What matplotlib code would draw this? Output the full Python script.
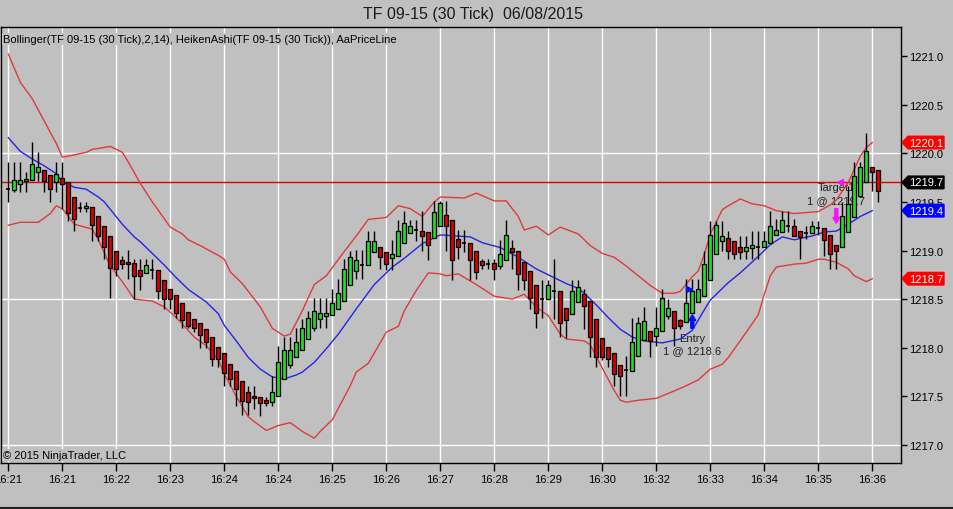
import matplotlib
matplotlib.use("Agg")
import matplotlib.pyplot as plt
import matplotlib.transforms as mtrans
from matplotlib.patches import Polygon, FancyArrow

plt.rcParams['font.family'] = ['Liberation Sans', 'DejaVu Sans']

# ---------------- data ----------------
title = "TF 09-15 (30 Tick)  06/08/2015"
indicator_label = "Bollinger(TF 09-15 (30 Tick),2,14), HeikenAshi(TF 09-15 (30 Tick)), AaPriceLine"
copyright_label = "\u00a9 2015 NinjaTrader, LLC"

ha_open = [1219.63, 1219.62, 1219.68, 1219.71, 1219.72, 1219.81, 1219.83, 1219.78, 1219.70, 1219.75,
           1219.70, 1219.55, 1219.44, 1219.44, 1219.45, 1219.35, 1219.25, 1219.15, 1218.99, 1218.90,
           1218.88, 1218.87, 1218.80, 1218.77, 1218.80, 1218.80, 1218.70, 1218.60, 1218.54, 1218.46,
           1218.37, 1218.30, 1218.25, 1218.19, 1218.11, 1218.01, 1217.95, 1217.83, 1217.76, 1217.66,
           1217.54, 1217.50, 1217.49, 1217.46, 1217.44, 1217.50, 1217.68, 1217.82, 1217.90, 1217.98,
           1218.09, 1218.20, 1218.30, 1218.33, 1218.34, 1218.40, 1218.48, 1218.65, 1218.79, 1218.85,
           1218.85, 1218.98, 1219.04, 1218.98, 1218.92, 1218.94, 1219.08, 1219.18, 1219.21, 1219.20,
           1219.19, 1219.13, 1219.25, 1219.37, 1219.31, 1219.12, 1219.08, 1219.08, 1218.99, 1218.89,
           1218.86, 1218.87, 1218.84, 1218.90, 1219.03, 1218.99, 1218.88, 1218.79, 1218.65, 1218.50,
           1218.50, 1218.58, 1218.58, 1218.41, 1218.35, 1218.47, 1218.55, 1218.48, 1218.30, 1218.10,
           1218.01, 1217.95, 1217.82, 1217.77, 1217.76, 1217.92, 1218.08, 1218.17, 1218.12, 1218.17,
           1218.33, 1218.38, 1218.29, 1218.26, 1218.36, 1218.47, 1218.53, 1218.70, 1218.96, 1219.10,
           1219.13, 1219.10, 1219.04, 1219.00, 1219.03, 1219.04, 1219.04, 1219.08, 1219.16, 1219.19,
           1219.25, 1219.25, 1219.20, 1219.18, 1219.18, 1219.23, 1219.23, 1219.16, 1219.06, 1219.04,
           1219.19, 1219.34, 1219.56, 1219.70, 1219.86, 1219.83]
ha_close = [1219.63, 1219.72, 1219.72, 1219.74, 1219.89, 1219.86, 1219.71, 1219.63, 1219.79, 1219.68,
            1219.39, 1219.32, 1219.44, 1219.46, 1219.26, 1219.15, 1219.04, 1218.82, 1218.81, 1218.86,
            1218.86, 1218.74, 1218.74, 1218.85, 1218.80, 1218.58, 1218.50, 1218.50, 1218.36, 1218.29,
            1218.22, 1218.20, 1218.13, 1218.06, 1217.88, 1217.88, 1217.74, 1217.68, 1217.58, 1217.45,
            1217.44, 1217.48, 1217.43, 1217.43, 1217.54, 1217.85, 1217.98, 1217.98, 1218.06, 1218.20,
            1218.31, 1218.38, 1218.36, 1218.36, 1218.46, 1218.56, 1218.81, 1218.93, 1218.90, 1218.85,
            1219.10, 1219.10, 1218.93, 1218.86, 1218.96, 1219.20, 1219.28, 1219.25, 1219.21, 1219.15,
            1219.06, 1219.40, 1219.49, 1219.25, 1218.90, 1219.04, 1219.08, 1218.90, 1218.78, 1218.85,
            1218.86, 1218.81, 1218.96, 1219.16, 1218.98, 1218.76, 1218.70, 1218.51, 1218.36, 1218.50,
            1218.65, 1218.58, 1218.25, 1218.29, 1218.58, 1218.62, 1218.43, 1218.11, 1217.90, 1217.90,
            1217.88, 1217.73, 1217.71, 1217.77, 1218.06, 1218.25, 1218.28, 1218.07, 1218.20, 1218.51,
            1218.41, 1218.20, 1218.22, 1218.46, 1218.58, 1218.60, 1218.86, 1219.16, 1219.26, 1219.15,
            1218.99, 1218.96, 1218.98, 1219.04, 1219.06, 1219.04, 1219.10, 1219.25, 1219.21, 1219.31,
            1219.25, 1219.15, 1219.14, 1219.18, 1219.25, 1219.23, 1219.11, 1218.96, 1218.99, 1219.35,
            1219.48, 1219.77, 1219.86, 1220.02, 1219.81, 1219.61]
ha_high = [1219.91, 1219.91, 1219.91, 1219.81, 1220.12, 1220.01, 1219.83, 1219.78, 1219.91, 1219.91,
           1219.70, 1219.55, 1219.50, 1219.50, 1219.45, 1219.35, 1219.25, 1219.15, 1218.99, 1218.94,
           1219.01, 1218.91, 1218.91, 1218.91, 1218.91, 1218.80, 1218.70, 1218.60, 1218.54, 1218.46,
           1218.37, 1218.30, 1218.25, 1218.19, 1218.11, 1218.01, 1217.95, 1217.83, 1217.76, 1217.66,
           1217.61, 1217.61, 1217.49, 1217.49, 1217.71, 1218.02, 1218.11, 1218.11, 1218.20, 1218.30,
           1218.38, 1218.51, 1218.51, 1218.51, 1218.60, 1218.71, 1218.91, 1218.99, 1219.01, 1219.01,
           1219.20, 1219.20, 1219.04, 1218.98, 1219.11, 1219.31, 1219.41, 1219.31, 1219.31, 1219.41,
           1219.19, 1219.51, 1219.51, 1219.51, 1219.31, 1219.21, 1219.21, 1219.08, 1218.99, 1218.91,
           1218.91, 1218.91, 1219.11, 1219.31, 1219.11, 1218.99, 1218.88, 1218.79, 1218.65, 1218.70,
           1218.70, 1218.91, 1218.58, 1218.41, 1218.70, 1218.70, 1218.60, 1218.48, 1218.30, 1218.10,
           1218.01, 1217.95, 1217.82, 1217.92, 1218.31, 1218.32, 1218.42, 1218.17, 1218.42, 1218.60,
           1218.50, 1218.38, 1218.30, 1218.71, 1218.71, 1218.71, 1218.99, 1219.30, 1219.30, 1219.30,
           1219.20, 1219.10, 1219.15, 1219.15, 1219.20, 1219.20, 1219.20, 1219.41, 1219.32, 1219.41,
           1219.41, 1219.32, 1219.20, 1219.25, 1219.30, 1219.30, 1219.23, 1219.16, 1219.06, 1219.50,
           1219.66, 1219.91, 1219.91, 1220.21, 1219.86, 1219.83]
ha_low = [1219.50, 1219.60, 1219.60, 1219.60, 1219.72, 1219.71, 1219.60, 1219.50, 1219.60, 1219.43,
          1219.30, 1219.20, 1219.40, 1219.40, 1219.10, 1219.10, 1218.91, 1218.51, 1218.74, 1218.81,
          1218.71, 1218.50, 1218.59, 1218.77, 1218.71, 1218.50, 1218.40, 1218.40, 1218.31, 1218.20,
          1218.20, 1218.16, 1218.00, 1218.00, 1217.81, 1217.80, 1217.61, 1217.61, 1217.40, 1217.31,
          1217.31, 1217.37, 1217.30, 1217.40, 1217.40, 1217.50, 1217.68, 1217.79, 1217.90, 1217.98,
          1218.09, 1218.17, 1218.20, 1218.20, 1218.34, 1218.40, 1218.48, 1218.65, 1218.71, 1218.71,
          1218.85, 1218.98, 1218.81, 1218.80, 1218.80, 1218.94, 1219.08, 1219.18, 1219.10, 1218.99,
          1218.90, 1219.13, 1219.25, 1218.99, 1218.70, 1218.91, 1218.98, 1218.70, 1218.71, 1218.81,
          1218.81, 1218.70, 1218.81, 1218.90, 1218.81, 1218.59, 1218.59, 1218.40, 1218.20, 1218.31,
          1218.50, 1218.30, 1218.11, 1218.10, 1218.35, 1218.47, 1218.19, 1217.90, 1217.80, 1217.87,
          1217.80, 1217.61, 1217.50, 1217.50, 1217.76, 1217.92, 1218.08, 1217.90, 1218.02, 1218.17,
          1218.30, 1218.02, 1218.19, 1218.26, 1218.36, 1218.47, 1218.53, 1218.70, 1218.96, 1218.99,
          1218.91, 1218.91, 1218.91, 1218.91, 1218.91, 1218.91, 1219.04, 1219.08, 1219.16, 1219.19,
          1219.19, 1219.15, 1218.91, 1219.12, 1219.18, 1219.16, 1218.94, 1218.81, 1218.81, 1219.04,
          1219.19, 1219.34, 1219.56, 1219.70, 1219.61, 1219.50]

bb_upper_bars = [0, 2, 4, 6, 8, 9, 10, 13, 14, 17, 19, 20, 22, 24, 27, 29, 30, 32, 35, 36, 37, 39, 42,
                 44, 46, 47, 49, 51, 53, 56, 58, 60, 63, 65, 67, 69, 71, 72, 76, 78, 81, 83, 85, 86,
                 88, 90, 92, 95, 97, 99, 101, 103, 105, 107, 109, 111, 112, 114, 115, 116, 117, 119,
                 120, 122, 124, 126, 128, 131, 133, 135, 137, 138, 140, 142, 143, 144]
bb_upper = [1221.02, 1220.73, 1220.56, 1220.33, 1220.10, 1219.96, 1219.97, 1220.01, 1220.04, 1220.07,
            1220.01, 1219.91, 1219.69, 1219.50, 1219.24, 1219.17, 1219.11, 1219.05, 1218.95, 1218.91,
            1218.78, 1218.66, 1218.42, 1218.20, 1218.12, 1218.14, 1218.38, 1218.65, 1218.74, 1218.99,
            1219.15, 1219.32, 1219.34, 1219.46, 1219.43, 1219.35, 1219.50, 1219.55, 1219.54, 1219.59,
            1219.51, 1219.51, 1219.35, 1219.21, 1219.25, 1219.16, 1219.24, 1219.17, 1219.05, 1218.97,
            1218.93, 1218.84, 1218.74, 1218.64, 1218.56, 1218.56, 1218.58, 1218.73, 1218.79, 1218.96,
            1219.17, 1219.42, 1219.46, 1219.53, 1219.48, 1219.46, 1219.41, 1219.38, 1219.39, 1219.40,
            1219.47, 1219.52, 1219.70, 1219.97, 1220.06, 1220.11]

bb_mid_bars = [0, 2, 4, 6, 8, 9, 11, 13, 15, 16, 19, 21, 22, 24, 26, 28, 30, 33, 35, 36, 38, 40, 42,
               44, 46, 48, 49, 51, 53, 55, 58, 61, 64, 66, 69, 72, 77, 79, 82, 85, 88, 90, 93, 95,
               96, 98, 100, 102, 104, 106, 109, 112, 114, 116, 117, 119, 120, 122, 125, 127, 129,
               131, 134, 136, 138, 140, 142, 144]
bb_mid = [1220.16, 1220.02, 1219.94, 1219.87, 1219.79, 1219.71, 1219.65, 1219.63, 1219.55, 1219.50,
          1219.27, 1219.14, 1219.09, 1218.97, 1218.85, 1218.72, 1218.60, 1218.47, 1218.35, 1218.23,
          1218.07, 1217.90, 1217.78, 1217.70, 1217.68, 1217.72, 1217.75, 1217.85, 1217.99, 1218.14,
          1218.40, 1218.65, 1218.83, 1218.92, 1219.07, 1219.16, 1219.14, 1219.08, 1219.03, 1218.93,
          1218.81, 1218.75, 1218.66, 1218.61, 1218.56, 1218.44, 1218.31, 1218.19, 1218.11, 1218.07,
          1218.05, 1218.09, 1218.18, 1218.39, 1218.49, 1218.61, 1218.67, 1218.77, 1218.94, 1219.06,
          1219.14, 1219.11, 1219.15, 1219.19, 1219.20, 1219.27, 1219.35, 1219.41]

bb_lower_bars = [0, 2, 5, 7, 8, 9, 11, 14, 15, 17, 19, 21, 24, 26, 28, 31, 33, 35, 36, 38, 40, 41, 43,
                 45, 47, 49, 51, 52, 54, 57, 58, 60, 63, 65, 66, 68, 70, 72, 73, 75, 78, 81, 84, 86,
                 88, 90, 92, 93, 96, 97, 99, 101, 102, 103, 105, 108, 110, 113, 115, 117, 119, 120,
                 123, 125, 126, 127, 128, 131, 133, 135, 136, 138, 140, 141, 143, 144]
bb_lower = [1219.26, 1219.29, 1219.29, 1219.38, 1219.46, 1219.43, 1219.27, 1219.22, 1219.11, 1218.84,
            1218.68, 1218.50, 1218.48, 1218.42, 1218.31, 1218.11, 1218.02, 1217.88, 1217.73, 1217.50,
            1217.29, 1217.24, 1217.15, 1217.20, 1217.23, 1217.14, 1217.07, 1217.14, 1217.26, 1217.61,
            1217.75, 1217.84, 1218.16, 1218.22, 1218.38, 1218.59, 1218.77, 1218.76, 1218.74, 1218.76,
            1218.65, 1218.53, 1218.50, 1218.55, 1218.42, 1218.33, 1218.14, 1218.09, 1218.07, 1218.03,
            1217.79, 1217.56, 1217.46, 1217.44, 1217.46, 1217.48, 1217.53, 1217.61, 1217.67, 1217.78,
            1217.83, 1217.90, 1218.16, 1218.34, 1218.55, 1218.74, 1218.83, 1218.86, 1218.87, 1218.91,
            1218.91, 1218.88, 1218.81, 1218.74, 1218.68, 1218.71]

time_tick_bars = [0, 9, 18, 27, 36, 45, 54, 63, 72, 81, 90, 99, 108, 117, 126, 135, 144]
time_tick_labels = ["16:21", "16:21", "16:22", "16:23", "16:24", "16:24", "16:25", "16:26", "16:27",
                    "16:28", "16:29", "16:30", "16:32", "16:33", "16:34", "16:35", "16:36"]
price_ticks = [1217.0, 1217.5, 1218.0, 1218.5, 1219.0, 1219.5, 1220.0, 1220.5, 1221.0]
grid_prices = [1217.0, 1218.5, 1220.0]
last_price = 1219.7

entry_bar, entry_price, entry_qty = 114, 1218.6, 1
target_bar, target_price, target_qty = 138, 1219.7, 1

# ---------------- styling ----------------
BG = '#c0c0c0'
UP = '#1ee01e'
DOWN = '#d80000'
BAND = '#e03a3a'
MID = '#2424e6'
W, H = 954, 510

fig = plt.figure(figsize=(W / 100, H / 100), dpi=100, facecolor=BG)
ax_l, ax_r, ax_t, ax_b = 1, 900.7, 27.5, 464
ax = fig.add_axes([ax_l / W, 1 - ax_b / H, (ax_r - ax_l) / W, (ax_b - ax_t) / H])
ax.set_facecolor(BG)

px_per_pt = 97.25
bar_px = 6.0
bar0_px = 8.3
ymax = 1221.0 + (57 - ax_t) / px_per_pt
ymin = 1221.0 - (ax_b - 57) / px_per_pt
ax.set_ylim(ymin, ymax)
ax.set_xlim((ax_l - bar0_px) / bar_px, (ax_r - bar0_px) / bar_px)

# grid
for b in time_tick_bars:
    ax.axvline(b, color='white', lw=1, zorder=0.5)
for p in grid_prices:
    ax.axhline(p, color='white', lw=1, zorder=0.5)

# price line
ax.axhline(last_price, color='#e00000', lw=1, zorder=1)

# bands
ax.plot(bb_upper_bars, bb_upper, color=BAND, lw=1, zorder=2)
ax.plot(bb_lower_bars, bb_lower, color=BAND, lw=1, zorder=2)
ax.plot(bb_mid_bars, bb_mid, color=MID, lw=1, zorder=2)

# execution texts (behind candles)
tcol = '#202020'
ax.text(entry_bar, entry_price - 0.50, "Entry", ha='center', va='center', fontsize=8, color=tcol, zorder=1.5)
ax.text(entry_bar, entry_price - 0.62, f"{entry_qty} @ {entry_price:.1f}", ha='center', va='center',
        fontsize=8, color=tcol, zorder=1.5)
ax.text(target_bar, target_price - 0.05, "Target1", ha='center', va='center', fontsize=8, color=tcol, zorder=1.5)
ax.text(target_bar, target_price - 0.18, f"{target_qty} @ {target_price:.1f}", ha='center', va='center',
        fontsize=8, color=tcol, zorder=1.5)

# candles
n = len(ha_open)
bw = 0.68
for i in range(n):
    o, c, hi, lo = ha_open[i], ha_close[i], ha_high[i], ha_low[i]
    ax.vlines(i, lo, hi, color='black', lw=1, zorder=3)
    if abs(c - o) < 1e-9:
        ax.hlines(o, i - bw / 2, i + bw / 2, color='black', lw=1.2, zorder=4)
    else:
        col = UP if c > o else DOWN
        ax.bar(i, abs(c - o), bottom=min(o, c), width=bw, color=col, edgecolor='black',
               linewidth=0.9, zorder=4)

# execution markers
ax.add_patch(FancyArrow(entry_bar, entry_price - 0.40, 0, 0.14, width=0.5, head_width=1.15,
                        head_length=0.06, length_includes_head=True, color='#0010ff', zorder=5))
ax.plot([entry_bar - 0.55], [entry_price], marker='>', ms=5, color='#0010ff', zorder=5)
ax.add_patch(FancyArrow(target_bar, target_price - 0.27, 0, -0.15, width=0.5, head_width=1.15,
                        head_length=0.06, length_includes_head=True, color='#ff10ff', zorder=5))
ax.plot([target_bar + 0.6], [target_price], marker='<', ms=5, color='#ff10ff', zorder=5)

# axes / ticks
for s in ax.spines.values():
    s.set_color('black')
    s.set_linewidth(1)
ax.yaxis.tick_right()
ax.set_yticks(price_ticks)
ax.set_yticklabels([f"{p:.1f}" for p in price_ticks])
ax.set_xticks(time_tick_bars)
ax.set_xticklabels(time_tick_labels)
ax.tick_params(axis='y', direction='out', length=4, width=1, pad=2, labelsize=8, colors='black')
ax.tick_params(axis='x', direction='out', length=6, width=1, pad=2, labelsize=8, colors='black')
for lab in ax.get_xticklabels():
    lab.set_clip_on(False)

# right-side value tags
tr = mtrans.blended_transform_factory(fig.transFigure, ax.transData)
hh = 6.3 / px_per_pt
x0, x1, x2 = 902 / W, 908 / W, 944 / W
tags = [(bb_upper[-1], '#ff0000'), (last_price, '#000000'), (bb_mid[-1], '#0000ff'), (bb_lower[-1], '#ff0000')]
for val, col in tags:
    poly = Polygon([(x0, val), (x1, val + hh), (x2, val + hh), (x2, val - hh), (x1, val - hh)],
                   closed=True, transform=tr, facecolor=col, edgecolor=col, clip_on=False, zorder=10)
    ax.add_patch(poly)
    ax.text(926 / W, val, f"{val:.1f}", transform=tr, ha='center', va='center', color='white',
            fontsize=8, clip_on=False, zorder=11)

# texts
fig.text(473 / W, 1 - 14 / H, title, ha='center', va='center', fontsize=11.5, color='#1a1a1a')
fig.text(3 / W, 1 - 40 / H, indicator_label, ha='left', va='center', fontsize=8, color='black',
         bbox=dict(facecolor=BG, edgecolor='none', pad=1))
fig.text(3 / W, 1 - 456 / H, copyright_label, ha='left', va='center', fontsize=8, color='black',
         bbox=dict(facecolor=BG, edgecolor='none', pad=1))

# bottom border of the window
fig.add_artist(plt.Line2D([0, 1], [1 / H, 1 / H], transform=fig.transFigure, color='#202020', lw=1.5))

fig.savefig("out.png", dpi=100, facecolor=BG)
